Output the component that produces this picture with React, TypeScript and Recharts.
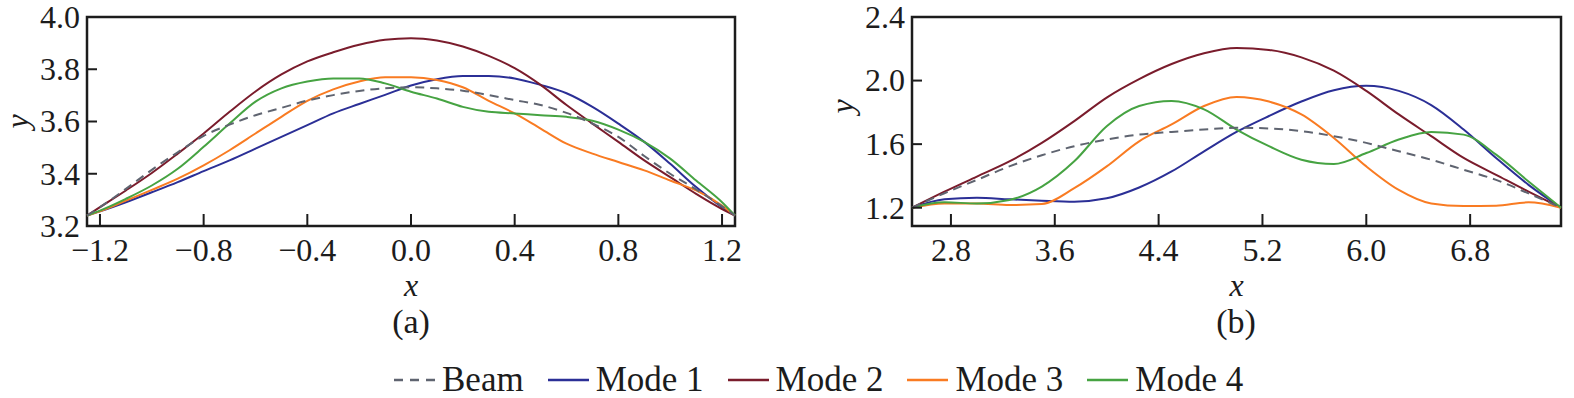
import React from "react";
import { LineChart, Line, XAxis, YAxis, ReferenceArea } from "recharts";

const FONT = "'Liberation Serif', 'Times New Roman', Times, 'DejaVu Serif', 'Noto Serif', serif";
const INK = "#1c1c1c";

const seriesNames = ["Beam", "Mode 1", "Mode 2", "Mode 3", "Mode 4"];
const seriesKeys = ["beam", "mode1", "mode2", "mode3", "mode4"];
const seriesColors = ["#5f6470", "#2b2f96", "#7a1c2c", "#f97b22", "#46a342"];

// panel (a)
const xA = [-1.25, -1.2, -1.1, -1.0, -0.9, -0.8, -0.7, -0.6, -0.5, -0.4, -0.3, -0.2, -0.1, 0, 0.1, 0.2, 0.3, 0.4, 0.5, 0.6, 0.7, 0.8, 0.9, 1.0, 1.1, 1.2, 1.25];
const beamA = [3.24, 3.272, 3.342, 3.415, 3.482, 3.545, 3.588, 3.624, 3.652, 3.68, 3.701, 3.717, 3.727, 3.731, 3.727, 3.718, 3.701, 3.682, 3.663, 3.633, 3.592, 3.541, 3.468, 3.4, 3.34, 3.275, 3.24];
const mode1A = [3.24, 3.256, 3.291, 3.329, 3.368, 3.41, 3.451, 3.496, 3.541, 3.586, 3.631, 3.667, 3.702, 3.738, 3.762, 3.774, 3.774, 3.765, 3.74, 3.708, 3.656, 3.592, 3.522, 3.438, 3.349, 3.272, 3.24];
const mode2A = [3.24, 3.272, 3.336, 3.403, 3.477, 3.554, 3.637, 3.715, 3.78, 3.83, 3.865, 3.894, 3.913, 3.919, 3.91, 3.887, 3.851, 3.804, 3.74, 3.663, 3.592, 3.522, 3.451, 3.387, 3.323, 3.265, 3.24];
const mode3A = [3.24, 3.256, 3.297, 3.338, 3.381, 3.432, 3.49, 3.554, 3.618, 3.679, 3.723, 3.753, 3.769, 3.769, 3.759, 3.731, 3.679, 3.631, 3.573, 3.515, 3.477, 3.445, 3.413, 3.374, 3.336, 3.278, 3.24];
const mode4A = [3.24, 3.259, 3.304, 3.355, 3.419, 3.503, 3.592, 3.676, 3.727, 3.753, 3.765, 3.765, 3.746, 3.714, 3.688, 3.656, 3.637, 3.631, 3.624, 3.618, 3.603, 3.569, 3.522, 3.458, 3.374, 3.291, 3.24];
const xTicksA = [-1.2, -0.8, -0.4, 0, 0.4, 0.8, 1.2];
const yTicksA = [3.2, 3.4, 3.6, 3.8, 4.0];
const xDomainA = [-1.25, 1.25];
const yDomainA = [3.2, 4.0];

// panel (b)
const xB = [2.5, 2.75, 3.0, 3.25, 3.5, 3.75, 4.0, 4.25, 4.5, 4.75, 5.0, 5.25, 5.5, 5.75, 6.0, 6.25, 6.5, 6.75, 7.0, 7.25, 7.5];
const beamB = [1.2, 1.291, 1.375, 1.46, 1.53, 1.587, 1.629, 1.66, 1.677, 1.692, 1.703, 1.699, 1.682, 1.65, 1.608, 1.555, 1.502, 1.439, 1.375, 1.29, 1.2];
const mode1B = [1.2, 1.253, 1.263, 1.253, 1.244, 1.238, 1.259, 1.327, 1.428, 1.555, 1.677, 1.777, 1.868, 1.939, 1.967, 1.935, 1.846, 1.692, 1.513, 1.344, 1.2];
const mode2B = [1.2, 1.301, 1.396, 1.491, 1.608, 1.745, 1.893, 2.009, 2.104, 2.172, 2.205, 2.193, 2.146, 2.062, 1.935, 1.787, 1.65, 1.513, 1.407, 1.301, 1.2];
const mode3B = [1.2, 1.227, 1.227, 1.217, 1.223, 1.323, 1.46, 1.618, 1.724, 1.84, 1.897, 1.868, 1.787, 1.639, 1.46, 1.312, 1.227, 1.211, 1.213, 1.234, 1.2];
const mode4B = [1.2, 1.234, 1.227, 1.249, 1.333, 1.492, 1.713, 1.84, 1.872, 1.819, 1.692, 1.587, 1.502, 1.475, 1.544, 1.629, 1.677, 1.66, 1.534, 1.365, 1.2];
const xTicksB = [2.8, 3.6, 4.4, 5.2, 6.0, 6.8];
const yTicksB = [1.2, 1.6, 2.0, 2.4];
const xDomainB = [2.5, 7.5];
const yDomainB = [1.085, 2.4];

function toRows(xs: number[], cols: number[][]) {
  return xs.map((x, i) => {
    const row: Record<string, number> = { x };
    seriesKeys.forEach((k, j) => (row[k] = cols[j][i]));
    return row;
  });
}

const dataA = toRows(xA, [beamA, mode1A, mode2A, mode3A, mode4A]);
const dataB = toRows(xB, [beamB, mode1B, mode2B, mode3B, mode4B]);

const fmt = (v: number) => v.toFixed(1).replace("-", "\u2212");

const BottomTick = (p: any) => (
  <g>
    <line x1={p.x} x2={p.x} y1={p.y} y2={p.y - 12} stroke={INK} strokeWidth={2} />
    <text x={p.x} y={p.y + 35} textAnchor="middle" style={{ fontFamily: FONT }} fontSize={32} fill={INK}>
      {fmt(p.payload.value)}
    </text>
  </g>
);

const LeftTick = (p: any) => (
  <g>
    <line x1={p.x} x2={p.x + 10} y1={p.y} y2={p.y} stroke={INK} strokeWidth={2} />
    <text x={p.x - 7} y={p.y} dy="0.34em" textAnchor="end" style={{ fontFamily: FONT }} fontSize={32} fill={INK}>
      {fmt(p.payload.value)}
    </text>
  </g>
);

function Panel({ data, xDomain, yDomain, xTicks, yTicks, width, yLabelDy }: any) {
  return (
    <LineChart width={width} height={312} data={data} margin={{ top: 17, right: 10, bottom: 0, left: 0 }} style={{ overflow: "visible" }}>
      <XAxis
        dataKey="x" type="number" domain={xDomain} ticks={xTicks} interval={0}
        tickSize={0} tickMargin={0} axisLine={false} tickLine={false} tick={BottomTick} height={86}
        label={{
          content: (lp: any) => {
            const vb = lp.viewBox;
            return (
              <text x={vb.x + vb.width / 2} y={vb.y + 70} textAnchor="middle" style={{ fontFamily: FONT }} fontStyle="italic" fontSize={32} fill={INK}>x</text>
            );
          },
        }}
      />
      <YAxis
        type="number" domain={yDomain} ticks={yTicks} interval={0}
        tickSize={0} tickMargin={0} axisLine={false} tickLine={false} tick={LeftTick} width={87}
        label={{
          content: (lp: any) => {
            const vb = lp.viewBox;
            const cx = vb.x + 28;
            const cy = vb.y + vb.height / 2 + yLabelDy;
            return (
              <text x={cx} y={cy} transform={`rotate(-90 ${cx} ${cy})`} textAnchor="middle" style={{ fontFamily: FONT }} fontStyle="italic" fontSize={32} fill={INK}>y</text>
            );
          },
        }}
      />
      <ReferenceArea x1={xDomain[0]} x2={xDomain[1]} y1={yDomain[0]} y2={yDomain[1]} fill="none" fillOpacity={0} stroke={INK} strokeWidth={2.5} />
      {[1, 2, 3, 4, 0].map((i) => (
        <Line
          key={seriesKeys[i]} type="monotone" dataKey={seriesKeys[i]} stroke={seriesColors[i]}
          strokeWidth={2} strokeDasharray={i === 0 ? "9 6" : undefined} dot={false} isAnimationActive={false}
        />
      ))}
    </LineChart>
  );
}

export default function App() {
  return (
    <div style={{ position: "absolute", left: 0, top: 0, width: 1574, height: 398, background: "#fff", overflow: "hidden" }}>
      <div style={{ position: "absolute", left: 0, top: 0 }}>
        <Panel data={dataA} xDomain={xDomainA} yDomain={yDomainA} xTicks={xTicksA} yTicks={yTicksA} width={745} yLabelDy={0} />
      </div>
      <div style={{ position: "absolute", left: 825, top: 0 }}>
        <Panel data={dataB} xDomain={xDomainB} yDomain={yDomainB} xTicks={xTicksB} yTicks={yTicksB} width={746} yLabelDy={-15} />
      </div>
      {[["(a)", 411], ["(b)", 1236]].map(([t, cx]) => (
        <div key={t as string} style={{ position: "absolute", left: (cx as number) - 100, top: 303, width: 200, textAlign: "center", fontFamily: FONT, fontSize: 34, lineHeight: "38px", color: INK }}>
          {t}
        </div>
      ))}
      <div style={{ position: "absolute", left: 394, top: 361, display: "flex", alignItems: "center", fontFamily: FONT, fontSize: 35, lineHeight: "38px", color: INK }}>
        {seriesNames.map((n, i) => (
          <div key={n} style={{ display: "flex", alignItems: "center", marginRight: 24 }}>
            <svg width={41} height={6}>
              <line x1={0} x2={41} y1={3} y2={3} stroke={seriesColors[i]} strokeWidth={2.5} strokeDasharray={i === 0 ? "9 7" : undefined} />
            </svg>
            <span style={{ marginLeft: 7 }}>{n}</span>
          </div>
        ))}
      </div>
    </div>
  );
}
